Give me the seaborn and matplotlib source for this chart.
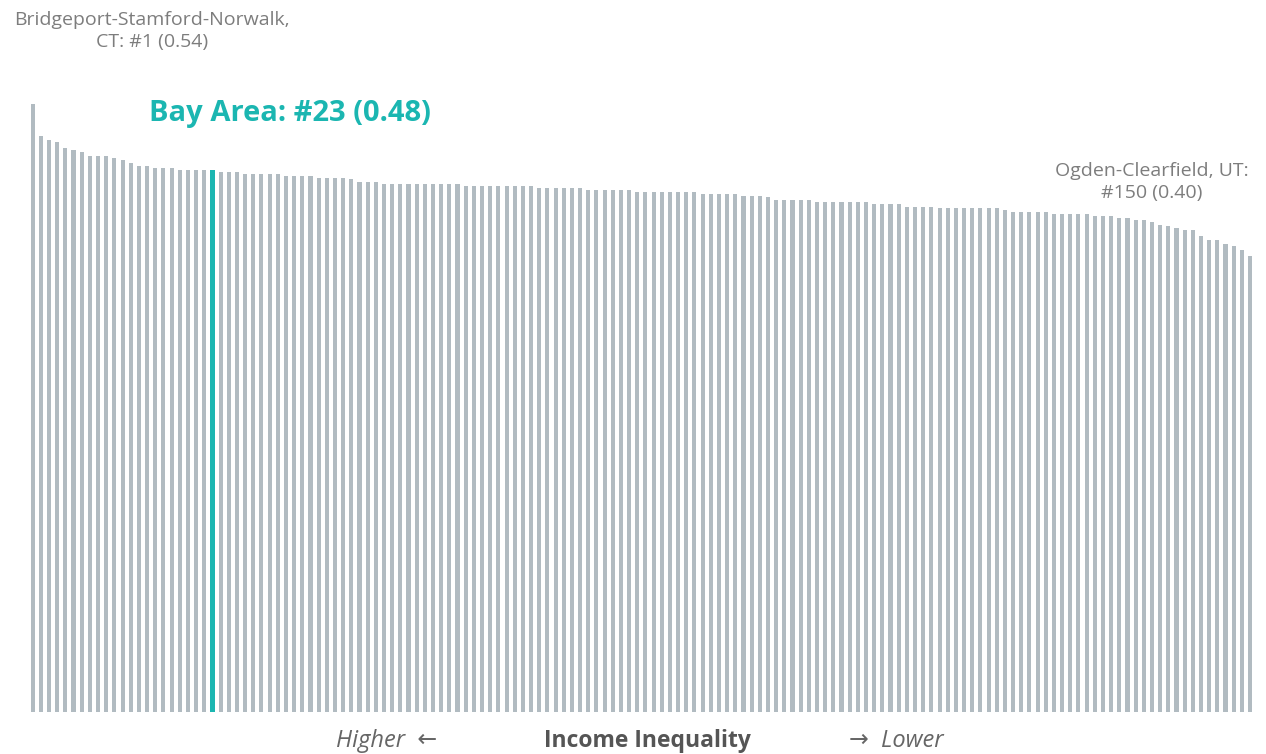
import numpy as np
import pandas as pd
import seaborn as sns
import matplotlib.pyplot as plt

# Income inequality (Gini) by metro rank
ranks = list(range(1, 151))
gini = [
    0.540, 0.512, 0.508, 0.506, 0.501, 0.499, 0.497, 0.494, 0.494, 0.494,
    0.492, 0.490, 0.488, 0.485, 0.485, 0.483, 0.483, 0.483, 0.481, 0.481,
    0.481, 0.481, 0.481, 0.480, 0.480, 0.480, 0.478, 0.478, 0.478, 0.478,
    0.478, 0.476, 0.476, 0.476, 0.476, 0.474, 0.474, 0.474, 0.474, 0.473,
    0.471, 0.471, 0.471, 0.469, 0.469, 0.469, 0.469, 0.469, 0.469, 0.469,
    0.469, 0.469, 0.469, 0.467, 0.467, 0.467, 0.467, 0.467, 0.467, 0.467,
    0.467, 0.467, 0.465, 0.465, 0.465, 0.465, 0.465, 0.465, 0.464, 0.464,
    0.464, 0.464, 0.464, 0.464, 0.462, 0.462, 0.462, 0.462, 0.462, 0.462,
    0.462, 0.462, 0.460, 0.460, 0.460, 0.460, 0.460, 0.458, 0.458, 0.458,
    0.457, 0.455, 0.455, 0.455, 0.455, 0.455, 0.453, 0.453, 0.453, 0.453,
    0.453, 0.453, 0.453, 0.451, 0.451, 0.451, 0.451, 0.449, 0.449, 0.449,
    0.449, 0.448, 0.448, 0.448, 0.448, 0.448, 0.448, 0.448, 0.448, 0.446,
    0.444, 0.444, 0.444, 0.444, 0.444, 0.442, 0.442, 0.442, 0.442, 0.442,
    0.441, 0.441, 0.441, 0.439, 0.439, 0.437, 0.437, 0.435, 0.433, 0.432,
    0.430, 0.428, 0.428, 0.423, 0.419, 0.419, 0.416, 0.414, 0.410, 0.405,
]
highlight_rank = 23

top_label = "Bridgeport-Stamford-Norwalk,\nCT: #1 (0.54)"
bay_label = "Bay Area: #23 (0.48)"
end_label = "Ogden-Clearfield, UT:\n#150 (0.40)"
axis_title = "Income Inequality"
left_hint = "Higher  \u2190"
right_hint = "\u2192  Lower"

GRAY = "#b1bbc1"
TEAL = "#1bb6b1"
TXT = "#7d7d7d"

df = pd.DataFrame({"rank": ranks, "gini": gini})
colors = [TEAL if r == highlight_rank else GRAY for r in ranks]

sns.set_style("white")
plt.rcParams["font.family"] = ["Open Sans", "DejaVu Sans"]

W, H = 1266, 754
fig = plt.figure(figsize=(W / 100, H / 100), dpi=100)
ax = fig.add_axes([28.6 / W, 42 / H, 1225.5 / W, 675.5 / H])

sns.barplot(data=df, x="rank", y="gini", hue="rank", palette=colors,
            width=0.5, legend=False, ax=ax, saturation=1)

# the highlighted bar is drawn a little wider
for p, r in zip(ax.patches, ranks):
    p.set_linewidth(0)
    if r == highlight_rank:
        cx = p.get_x() + p.get_width() / 2
        p.set_width(0.7)
        p.set_x(cx - 0.35)

ax.set_xlim(-0.5, len(ranks) - 0.5)
ax.set_ylim(0, 0.6)
ax.set_axis_off()


def px(x, y):
    return x / W, 1 - y / H


fig.text(*px(152, 31), top_label, ha="center", va="center", fontsize=14,
         color=TXT, linespacing=1.25)
fig.text(*px(149, 113), bay_label, ha="left", va="center", fontsize=21,
         color=TEAL, fontweight="bold")
fig.text(*px(1152, 182), end_label, ha="center", va="center", fontsize=14,
         color=TXT, linespacing=1.25)

fig.text(*px(336, 741), left_hint, ha="left", va="center", fontsize=17,
         color="#666666", style="italic")
fig.text(*px(647, 741), axis_title, ha="center", va="center", fontsize=16.5,
         color="#555555", fontweight="bold")
fig.text(*px(944, 741), right_hint, ha="right", va="center", fontsize=17,
         color="#666666", style="italic")

fig.savefig("out.png", dpi=100)
